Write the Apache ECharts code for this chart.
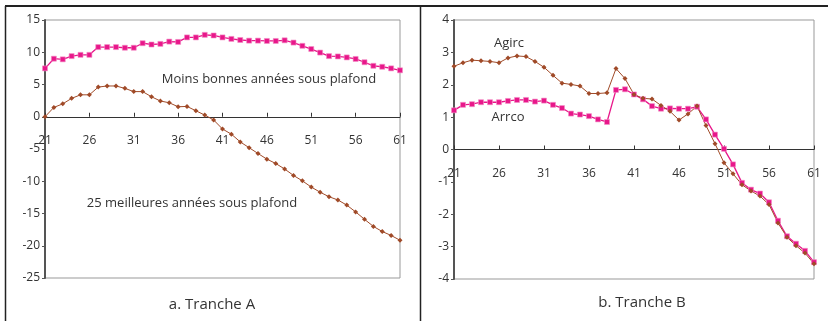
<!DOCTYPE html>
<html>
<head>
<meta charset="utf-8">
<script src="https://cdn.jsdelivr.net/npm/echarts@6/dist/echarts.min.js"></script>
<style>
  html, body { margin: 0; padding: 0; background: #fff; }
  #chart { width: 832px; height: 321px; }
</style>
</head>
<body>
<div id="chart"></div>
<script>
// Ages along the horizontal axis
const ages = [21, 22, 23, 24, 25, 26, 27, 28, 29, 30,
              31, 32, 33, 34, 35, 36, 37, 38, 39, 40,
              41, 42, 43, 44, 45, 46, 47, 48, 49, 50,
              51, 52, 53, 54, 55, 56, 57, 58, 59, 60, 61];

// Tranche A
const moinsBonnes = [7.5, 9.0, 8.9, 9.4, 9.6, 9.6, 10.8, 10.8, 10.8, 10.7,
                     10.7, 11.4, 11.2, 11.3, 11.65, 11.6, 12.3, 12.3, 12.7, 12.6,
                     12.3, 12.07, 11.9, 11.8, 11.8, 11.75, 11.75, 11.85, 11.5, 11.0,
                     10.5, 9.95, 9.4, 9.35, 9.2, 8.96, 8.45, 7.9, 7.75, 7.5, 7.2];
const meilleures = [0, 1.45, 2.0, 2.85, 3.4, 3.4, 4.6, 4.77, 4.77, 4.4,
                    3.9, 3.9, 3.1, 2.44, 2.17, 1.55, 1.6, 0.93, 0.26, -0.5,
                    -1.9, -2.7, -3.9, -4.8, -5.7, -6.57, -7.25, -8.1, -9.1, -9.94,
                    -10.9, -11.7, -12.4, -12.9, -13.7, -14.75, -15.9, -17.0, -17.8, -18.4, -19.15];

// Tranche B
const agirc = [2.57, 2.68, 2.76, 2.74, 2.72, 2.68, 2.83, 2.89, 2.87, 2.72,
               2.54, 2.29, 2.05, 2.01, 1.96, 1.73, 1.73, 1.75, 2.5, 2.19,
               1.70, 1.58, 1.56, 1.36, 1.18, 0.91, 1.10, 1.34, 0.74, 0.18,
               -0.41, -0.75, -1.09, -1.28, -1.44, -1.70, -2.27, -2.71, -2.97, -3.2, -3.53];
const arrco = [1.21, 1.38, 1.40, 1.46, 1.46, 1.46, 1.50, 1.53, 1.53, 1.48,
               1.51, 1.38, 1.28, 1.11, 1.08, 1.03, 0.93, 0.85, 1.84, 1.86,
               1.70, 1.55, 1.34, 1.26, 1.27, 1.26, 1.26, 1.32, 0.93, 0.46,
               0.02, -0.46, -1.03, -1.24, -1.36, -1.63, -2.2, -2.68, -2.91, -3.13, -3.48];

const PINK = '#E8178A';
const BROWN = '#A04A28';
const FONT = '"Open Sans", "Noto Sans", sans-serif';

// Plot boxes of the two panels
const gridA = { left: 45, top: 20, width: 355, height: 258 };
const gridB = { left: 454, top: 20, width: 360, height: 259 };
const rangeA = [-25, 15];
const rangeB = [-4, 4];

const pairs = vals => ages.map((a, i) => [a, vals[i]]);

// Horizontal axis sits on the zero line of its panel
function xAxisFor(gridIndex, grid, range) {
  const zeroOffset = grid.height * (0 - range[0]) / (range[1] - range[0]);
  return {
    type: 'value', gridIndex, min: 21, max: 61, interval: 5,
    position: 'bottom', offset: -zeroOffset,
    axisLine: { onZero: false, lineStyle: { color: '#333', width: 1 } },
    axisTick: { inside: true, length: 4, lineStyle: { color: '#333' } },
    axisLabel: { margin: 18, color: '#333', fontSize: 12, fontFamily: FONT },
    splitLine: { show: false }
  };
}
function yAxisFor(gridIndex, range, interval) {
  return {
    type: 'value', gridIndex, min: range[0], max: range[1], interval,
    axisLine: { show: true, onZero: false, lineStyle: { color: '#555', width: 2 } },
    axisTick: { show: true, length: 3, lineStyle: { color: '#555' } },
    axisLabel: { margin: 5, color: '#333', fontSize: 12, fontFamily: FONT },
    splitLine: { show: false }
  };
}
function pinkSeries(xi, vals) {
  return {
    type: 'line', xAxisIndex: xi, yAxisIndex: xi, data: pairs(vals),
    symbol: 'rect', symbolSize: 5, showSymbol: true,
    lineStyle: { color: PINK, width: 1.3 },
    itemStyle: { color: PINK, borderColor: '#F38CC4', borderWidth: 0.6 },
    animation: false, silent: true
  };
}
function brownSeries(xi, vals) {
  return {
    type: 'line', xAxisIndex: xi, yAxisIndex: xi, data: pairs(vals),
    symbol: 'diamond', symbolSize: 5, showSymbol: true,
    lineStyle: { color: BROWN, width: 1 },
    itemStyle: { color: BROWN },
    animation: false, silent: true
  };
}
function label(text, x, y, size) {
  return {
    type: 'text', x, y,
    style: { text, fill: '#333', font: size + 'px ' + FONT, align: 'center', verticalAlign: 'middle' }
  };
}
function rule(x1, y1, x2, y2, w) {
  return { type: 'line', shape: { x1, y1, x2, y2 }, style: { stroke: '#222', lineWidth: w } };
}

const chart = echarts.init(document.getElementById('chart'), null, { renderer: 'canvas' });
chart.setOption({
  animation: false,
  grid: [
    Object.assign({ show: true, borderColor: '#999', borderWidth: 1, backgroundColor: 'transparent' }, gridA),
    Object.assign({ show: true, borderColor: '#999', borderWidth: 1, backgroundColor: 'transparent' }, gridB)
  ],
  xAxis: [xAxisFor(0, gridA, rangeA), xAxisFor(1, gridB, rangeB)],
  yAxis: [yAxisFor(0, rangeA, 5), yAxisFor(1, rangeB, 1)],
  series: [
    brownSeries(0, meilleures),
    pinkSeries(0, moinsBonnes),
    pinkSeries(1, arrco),
    brownSeries(1, agirc)
  ],
  graphic: [
    rule(5, 6, 828, 6, 2),
    rule(5.5, 6, 5.5, 321, 1.5),
    rule(420.5, 6, 420.5, 321, 1.5),
    label('Moins bonnes années sous plafond', 269, 79, 13),
    label('25 meilleures années sous plafond', 192, 203, 13),
    label('Agirc', 509, 43, 13),
    label('Arrco', 508, 117, 13),
    label('a. Tranche A', 212, 305, 15),
    label('b. Tranche B', 642, 303, 15)
  ]
});
</script>
</body>
</html>
